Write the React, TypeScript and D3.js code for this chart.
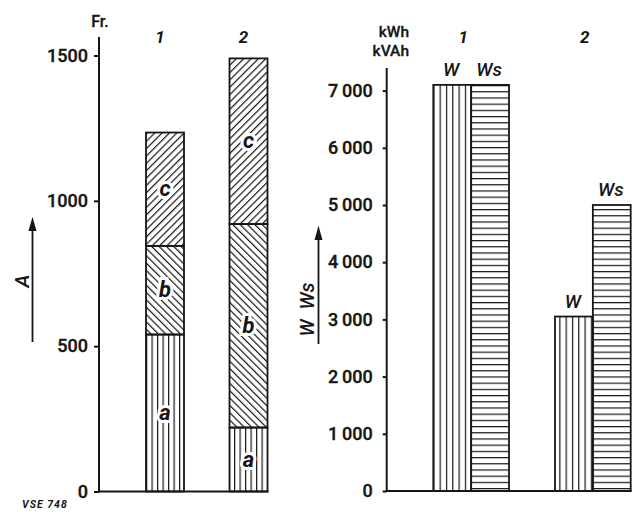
import React, { useEffect, useRef } from "react";
import * as d3 from "d3";

// ---- data ----
const costCategories = ["1", "2"];
const costSegments = ["a", "b", "c"];
const costA = [540, 220];
const costB = [305, 700];
const costC = [390, 570];
const costTicks = [0, 500, 1000, 1500];

const energyCategories = ["1", "2"];
const energySeries = ["W", "Ws"];
const energyW = [7100, 3050];
const energyWs = [7100, 5000];
const energyTicks = [0, 1000, 2000, 3000, 4000, 5000, 6000, 7000];

const INK = "#161616";
const FONT = "Roboto, 'DejaVu Sans', sans-serif";

export default function App() {
  const axL = useRef<SVGGElement>(null);
  const axR = useRef<SVGGElement>(null);

  // left chart scales
  const yL = d3.scaleLinear().domain([0, 1500]).range([491.5, 55.5]);
  const xL = d3.scaleBand().domain(costCategories).range([146, 267.5]).paddingInner(0.545);
  const costRows = costCategories.map((c, i) => ({ cat: c, a: costA[i], b: costB[i], c: costC[i] }));
  const stacked = d3.stack<any>().keys(costSegments)(costRows);
  const segFill: Record<string, string> = { a: "url(#vlines)", b: "url(#diagB)", c: "url(#diagC)" };

  // right chart scales
  const yR = d3.scaleLinear().domain([0, 7000]).range([491, 90.6]);
  const xR = d3.scaleBand().domain(energyCategories).range([433.3, 630.7]).paddingInner(0.378);
  const xRi = d3.scaleBand().domain(energySeries).range([0, xR.bandwidth()]);
  const energyRows = energyCategories.map((c, i) => ({ cat: c, W: energyW[i], Ws: energyWs[i] }));
  const serFill: Record<string, string> = { W: "url(#vlinesW)", Ws: "url(#hlines)" };

  const fmtR = d3.formatLocale({ decimal: ".", thousands: "\u2009", grouping: [3], currency: ["", ""] }).format(",");

  useEffect(() => {
    const gl = d3.select(axL.current!);
    gl.call(
      d3.axisLeft(yL).tickValues(costTicks).tickSize(5).tickSizeOuter(0).tickPadding(6).tickFormat(d3.format("d")) as any
    );
    const gr = d3.select(axR.current!);
    gr.call(
      d3.axisLeft(yR).tickValues(energyTicks).tickSize(4).tickSizeOuter(0).tickPadding(10).tickFormat((d: any) => fmtR(d)) as any
    );
    [gl, gr].forEach((g) => {
      g.select(".domain").remove();
      g.selectAll(".tick line").attr("stroke", INK).attr("stroke-width", 2);
      g.selectAll(".tick text")
        .attr("fill", INK)
        .attr("stroke", INK)
        .attr("stroke-width", 0.35)
        .style("font-family", FONT)
        .style("font-size", "18px")
        .style("font-weight", "500");
    });
  }, []);

  const italic = { fontFamily: FONT, fontStyle: "italic", fontWeight: 700, fill: INK } as const;
  const arrow = (x: number, y0: number, y1: number) =>
    `M${x},${y0}V${y1 + 8}M${x - 2.8},${y1 + 10}L${x},${y1}L${x + 2.8},${y1 + 10}Z`;

  return (
    <svg width={635} height={512} style={{ position: "absolute", left: 0, top: 0, background: "#fff" }}>
      <defs>
        <pattern id="vlines" patternUnits="userSpaceOnUse" width={5.5} height={10} x={146}>
          <line x1={0.6} y1={0} x2={0.6} y2={10} stroke={INK} strokeWidth={1.2} />
        </pattern>
        <pattern id="vlinesW" patternUnits="userSpaceOnUse" width={6.3} height={10} x={433.3}>
          <line x1={0.6} y1={0} x2={0.6} y2={10} stroke={INK} strokeWidth={1.2} />
        </pattern>
        <pattern id="hlines" patternUnits="userSpaceOnUse" width={10} height={6.2} y={85}>
          <line x1={0} y1={0.6} x2={10} y2={0.6} stroke={INK} strokeWidth={1.2} />
        </pattern>
        <pattern id="diagC" patternUnits="userSpaceOnUse" width={5.2} height={10} patternTransform="rotate(45)">
          <line x1={0.6} y1={0} x2={0.6} y2={10} stroke={INK} strokeWidth={1.2} />
        </pattern>
        <pattern id="diagB" patternUnits="userSpaceOnUse" width={5.2} height={10} patternTransform="rotate(-45)">
          <line x1={0.6} y1={0} x2={0.6} y2={10} stroke={INK} strokeWidth={1.2} />
        </pattern>
      </defs>

      {/* ---------- LEFT CHART ---------- */}
      <text x={100} y={27} textAnchor="middle" stroke={INK} strokeWidth={0.3} style={{ fontFamily: FONT, fontSize: 16, fontWeight: 500, fill: INK }}>Fr.</text>
      {costCategories.map((c) => (
        <text key={c} x={xL(c)! + xL.bandwidth() / 2 - 5} y={43} textAnchor="middle" style={{ ...italic, fontSize: 17 }}>{c}</text>
      ))}
      {stacked.map((layer) =>
        layer.map((d, i) => (
          <rect
            key={layer.key + i}
            x={xL(costCategories[i])}
            y={yL(d[1])}
            width={xL.bandwidth()}
            height={yL(d[0]) - yL(d[1])}
            fill={segFill[layer.key]}
            stroke={INK}
            strokeWidth={1.8}
          />
        ))
      )}
      {stacked.map((layer) =>
        layer.map((d, i) => (
          <text
            key={"t" + layer.key + i}
            x={xL(costCategories[i])! + xL.bandwidth() / 2}
            y={(yL(d[0]) + yL(d[1])) / 2 + 7}
            textAnchor="middle"
            stroke="#fff"
            strokeWidth={6}
            paintOrder="stroke"
            style={{ fontFamily: FONT, fontStyle: "italic", fontWeight: 700, fontSize: 22, fill: INK }}
          >
            {layer.key}
          </text>
        ))
      )}
      <line x1={99} y1={37} x2={99} y2={492.5} stroke={INK} strokeWidth={2} />
      <line x1={98} y1={491.5} x2={268.5} y2={491.5} stroke={INK} strokeWidth={2} />
      <g ref={axL} transform="translate(99,0)" />
      <path d={arrow(32.5, 342, 220)} stroke={INK} strokeWidth={1.8} fill={INK} />
      <text transform="translate(29,281) rotate(-90)" textAnchor="middle" style={{ ...italic, fontWeight: 500, fontSize: 20 }}>A</text>
      <text x={22} y={508} letterSpacing={1} style={{ fontFamily: FONT, fontStyle: "italic", fontWeight: 700, fontSize: 10.5, fill: INK }}>VSE 748</text>

      {/* ---------- RIGHT CHART ---------- */}
      <text x={409} y={37} textAnchor="end" stroke={INK} strokeWidth={0.3} style={{ fontFamily: FONT, fontSize: 15.5, fontWeight: 500, fill: INK }}>kWh</text>
      <text x={409} y={56} textAnchor="end" stroke={INK} strokeWidth={0.3} style={{ fontFamily: FONT, fontSize: 15.5, fontWeight: 500, fill: INK }}>kVAh</text>
      {energyCategories.map((c) => (
        <text key={c} x={xR(c)! + xR.bandwidth() / 2 - 8} y={43} textAnchor="middle" style={{ ...italic, fontSize: 17 }}>{c}</text>
      ))}
      {energyRows.map((row) =>
        energySeries.map((s) => (
          <g key={row.cat + s}>
            <rect
              x={xR(row.cat)! + xRi(s)!}
              y={yR((row as any)[s])}
              width={xRi.bandwidth()}
              height={yR(0) - yR((row as any)[s])}
              fill={serFill[s]}
              stroke={INK}
              strokeWidth={1.8}
            />
            <text
              x={xR(row.cat)! + xRi(s)! + xRi.bandwidth() / 2 - 1}
              y={yR((row as any)[s]) - 9}
              textAnchor="middle"
              style={{ ...italic, fontWeight: 500, fontSize: 19 }}
            >
              {s}
            </text>
          </g>
        ))
      )}
      <line x1={386.7} y1={68} x2={386.7} y2={492} stroke={INK} strokeWidth={2} />
      <line x1={385.7} y1={491} x2={631.5} y2={491} stroke={INK} strokeWidth={2} />
      <g ref={axR} transform="translate(386.7,0)" />
      <path d={arrow(318.5, 344, 229)} stroke={INK} strokeWidth={1.8} fill={INK} />
      <text transform="translate(314,328) rotate(-90)" textAnchor="middle" style={{ ...italic, fontWeight: 500, fontSize: 20 }}>W</text>
      <text transform="translate(314,296) rotate(-90)" textAnchor="middle" style={{ ...italic, fontWeight: 500, fontSize: 20 }}>Ws</text>
    </svg>
  );
}
